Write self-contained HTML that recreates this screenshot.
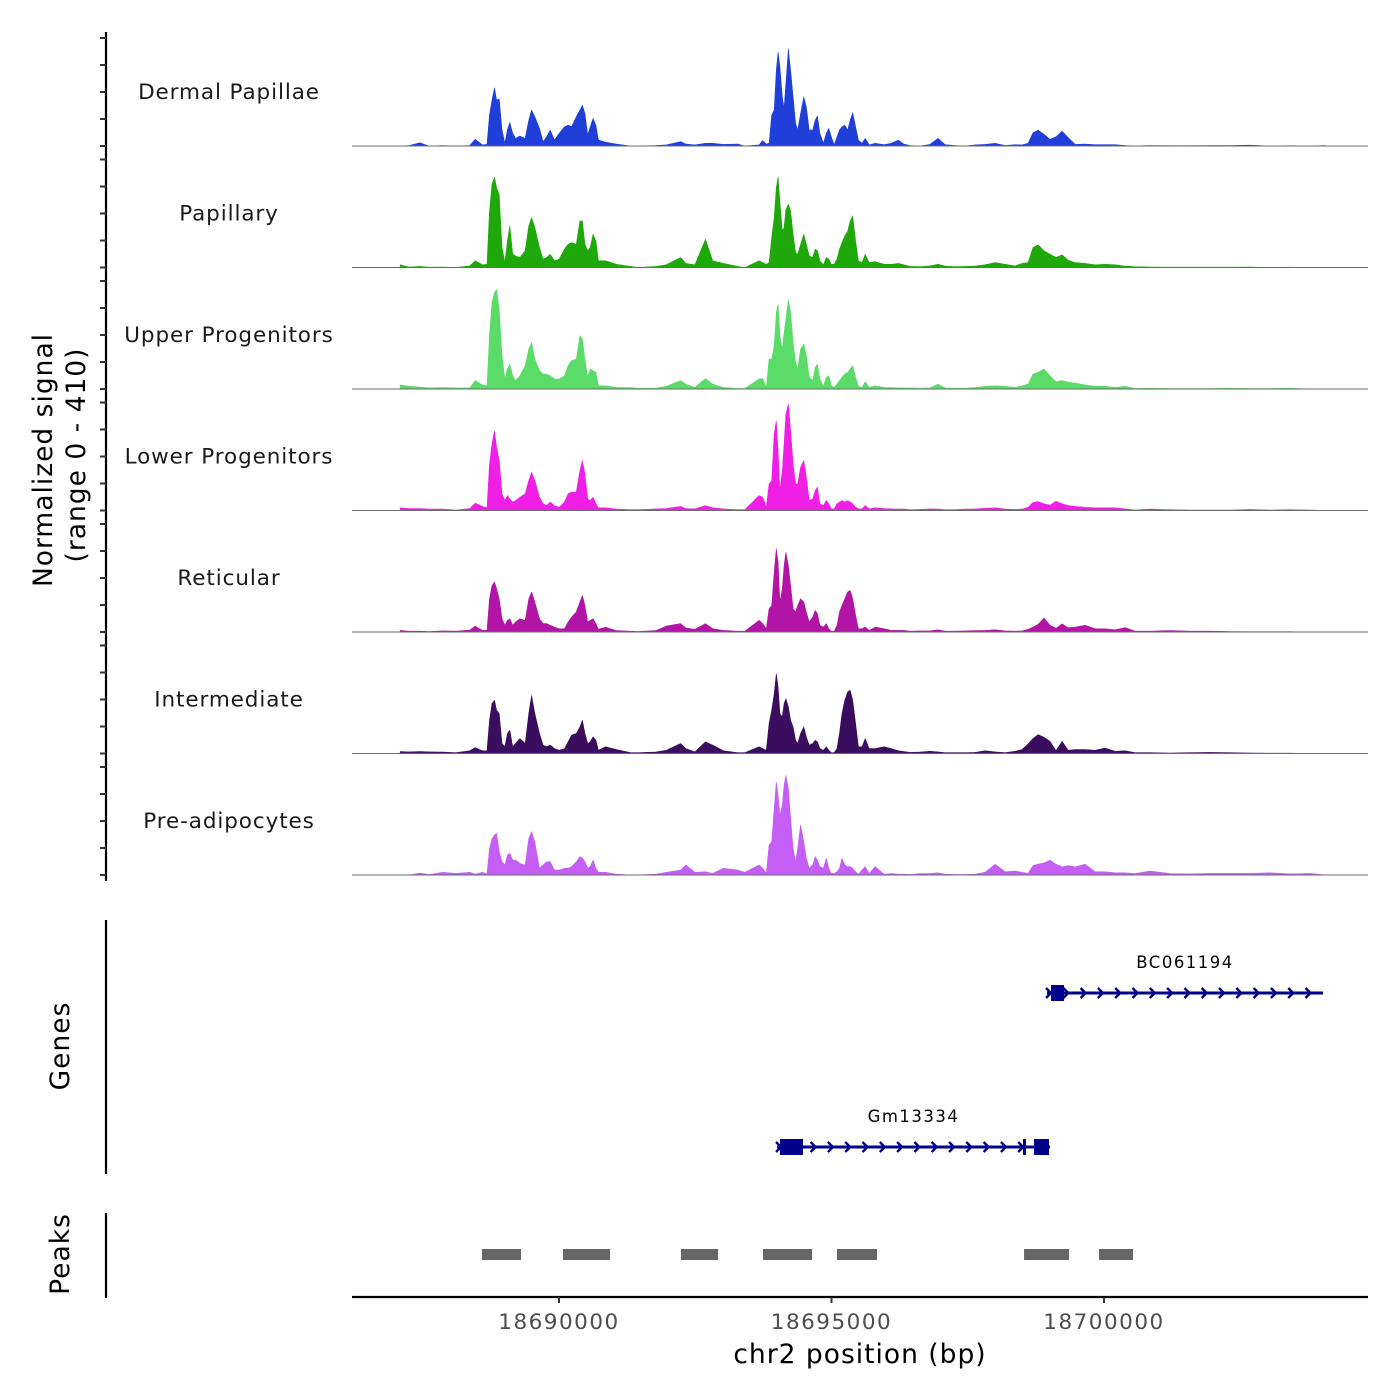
<!DOCTYPE html>
<html><head><meta charset="utf-8">
<style>
html,body{margin:0;padding:0;background:#fff;}
svg{display:block;font-family:"DejaVu Sans","Liberation Sans",sans-serif;}
</style></head>
<body>
<svg id="chart" width="1400" height="1400" viewBox="0 0 1400 1400" xmlns="http://www.w3.org/2000/svg"></svg>
<script>
// ---- data ----
const regionStart = 18686202;
const regionEnd = 18704844;
const xTicks = [18690000, 18695000, 18700000];
const yTicks = [0, 100, 200, 300, 400];
const trackNames = ["Dermal Papillae","Papillary","Upper Progenitors","Lower Progenitors","Reticular","Intermediate","Pre-adipocytes"];
const trackColors = ["#1f3fd8","#1ea80a","#5bdb68","#ef1fe6","#b215a5","#3b0d5e","#c45ef5"];
// genomic bin positions (bp)
const positions = [18687087,18687250,18687447,18687611,18687873,18688102,18688364,18688463,18688594,18688679,18688725,18688771,18688817,18688856,18688902,18688954,18689007,18689053,18689098,18689151,18689203,18689282,18689380,18689446,18689498,18689557,18689642,18689708,18689773,18689839,18689918,18690003,18690101,18690167,18690232,18690317,18690383,18690429,18690475,18690527,18690573,18690625,18690678,18690723,18690855,18691051,18691313,18691444,18691772,18691969,18692231,18692329,18692493,18692689,18692821,18693017,18693279,18693410,18693672,18693738,18693803,18693856,18693902,18693948,18693987,18694020,18694053,18694098,18694131,18694164,18694210,18694249,18694295,18694341,18694380,18694433,18694492,18694538,18694590,18694656,18694701,18694741,18694787,18694852,18694904,18694950,18694996,18695049,18695101,18695147,18695193,18695245,18695298,18695344,18695389,18695442,18695494,18695560,18695619,18695691,18695802,18695966,18696097,18696228,18696326,
18696441,18696625,18696808,18696955,18697084,18697267,18697451,18697634,18697818,18698001,18698185,18698368,18698497,18698607,18698698,18698790,18698900,18699010,18699120,18699231,18699341,18699469,18699653,18699836,18700020,18700203,18700387,18700570,18700845,18701212,18701579,18701946,18702313,18702680,18703047,18703414,18703781,18704057];
const dermalPapillae = [0,2,12,0,2,0,2,25,4,6,115,170,215,170,175,60,10,60,87,47,28,37,28,96,133,108,65,16,34,59,22,47,71,77,71,108,133,151,120,41,71,102,77,22,14,7,0,0,2,4,16,7,4,10,10,6,7,0,4,20,7,10,115,133,280,348,293,182,139,231,360,280,182,84,59,120,182,145,59,59,96,111,47,10,47,65,34,4,34,59,71,77,59,96,123,71,22,10,28,4,10,5,10,22,7,
2,0,6,28,5,2,0,4,6,10,2,5,4,10,49,59,43,25,34,55,31,6,7,5,5,5,2,0,2,1,1,2,2,3,0,1,0,2];
const papillary = [10,2,4,1,2,0,6,25,10,12,209,308,335,295,270,74,18,98,154,49,43,37,62,154,185,148,74,31,37,49,25,31,68,86,92,86,172,172,86,62,74,123,98,25,25,12,4,0,4,10,37,15,10,105,25,15,4,0,25,18,12,18,111,185,295,335,246,135,148,215,234,209,123,55,49,86,123,86,43,37,68,62,25,10,37,31,12,12,31,68,92,117,135,172,191,98,25,18,49,18,22,12,12,15,10,
4,3,6,12,5,3,4,5,10,18,12,6,15,18,74,84,62,49,37,47,27,18,15,10,12,10,5,3,2,1,1,1,1,2,0,1,0,0];
const upperProgenitors = [15,10,7,4,5,4,4,31,15,12,197,320,357,369,295,123,37,74,92,49,31,49,86,148,172,111,68,55,55,49,37,37,49,86,105,111,197,185,111,43,74,68,62,12,12,6,5,3,3,10,31,18,6,39,18,6,2,2,37,39,6,111,111,160,283,314,197,148,209,258,332,283,172,98,74,148,166,123,43,31,80,92,37,12,43,49,12,6,18,31,43,55,62,74,86,43,10,6,27,6,12,6,5,4,4,
4,3,4,18,4,3,3,5,10,12,10,6,12,18,55,62,74,49,27,31,25,22,15,10,10,6,10,2,3,2,2,2,3,2,2,3,0,0];
const lowerProgenitors = [10,7,7,5,5,2,7,27,15,10,172,246,295,234,185,62,37,55,43,31,37,49,62,111,141,111,49,25,18,31,18,12,31,62,68,68,148,185,135,43,37,49,25,10,10,5,3,3,6,7,15,7,6,18,10,6,3,3,55,49,12,98,111,283,332,221,74,148,246,357,394,295,172,98,98,160,185,123,37,43,74,86,25,18,37,25,6,6,25,31,37,31,37,31,25,12,6,6,18,6,10,7,6,5,5,
3,4,6,5,3,3,5,6,8,10,5,4,5,12,30,33,25,20,34,25,18,15,12,10,10,10,6,2,5,3,2,2,2,4,2,3,2,0];
const reticular = [6,3,3,2,4,3,7,22,6,6,123,172,185,160,123,49,25,43,49,25,37,49,43,123,148,111,49,31,31,25,18,12,12,37,55,74,111,135,98,37,43,49,31,10,18,5,3,2,5,22,31,15,10,31,12,6,3,3,43,31,12,86,98,221,308,258,111,160,246,295,246,172,86,74,98,123,111,74,37,55,80,68,25,18,31,12,3,3,25,74,98,123,148,154,123,62,12,12,18,6,18,12,6,6,6,
3,4,4,8,3,3,4,5,6,8,4,3,4,10,18,28,52,25,14,30,16,18,25,12,12,8,16,3,3,5,3,3,2,1,1,1,0,0];
const intermediate = [7,6,7,6,5,3,10,22,10,10,123,185,197,160,148,37,25,74,86,25,37,55,37,148,215,148,74,31,25,31,18,12,18,43,68,74,98,123,74,37,43,62,49,12,25,15,3,3,5,12,37,18,6,43,31,10,3,3,25,18,12,111,160,221,295,246,148,135,185,203,172,123,98,49,37,74,98,62,31,37,49,43,18,12,25,12,3,3,18,74,148,197,228,234,197,111,25,25,55,18,18,25,18,10,7,
4,5,8,6,3,3,3,4,10,6,3,8,15,35,55,70,60,45,10,45,12,15,15,12,20,8,10,3,3,2,3,4,3,2,1,1,0,0];
const preAdipocytes = [0,0,7,2,10,6,10,3,10,3,98,135,148,154,86,49,37,74,80,55,55,43,37,135,160,123,25,37,49,49,18,18,25,25,31,49,68,62,49,25,31,55,25,10,10,3,0,0,3,10,18,37,10,12,6,25,18,10,37,25,6,111,123,246,345,295,221,258,332,369,320,209,98,49,98,185,123,62,25,37,68,55,31,25,62,25,6,6,12,25,62,37,31,31,25,12,3,18,31,6,31,3,5,3,3,
2,5,5,8,3,2,2,3,10,40,12,15,10,6,35,40,45,55,40,30,35,30,40,12,12,8,8,5,15,5,4,6,6,6,8,4,6,0];
const trackValues = [dermalPapillae,papillary,upperProgenitors,lowerProgenitors,reticular,intermediate,preAdipocytes];
// genes
const geneNames = ["BC061194","Gm13334"];
const geneStarts = [18698955,18694000];
const geneEnds = [18704019,18699010];
const exonGene = [0,1,1,1];
const exonStarts = [18699028,18694055,18698514,18698716];
const exonEnds = [18699267,18694477,18698569,18698991];
// peaks
const peakStarts = [18688587,18690073,18692239,18693743,18695101,18698533,18699909];
const peakEnds = [18689303,18690936,18692918,18694643,18695835,18699359,18700533];

// ---- layout / scales ----
const NS = "http://www.w3.org/2000/svg";
const svg = document.getElementById("chart");
const plotLeft = 352, plotRight = 1368;
function xScale(bp){ return plotLeft + (bp - regionStart) / (regionEnd - regionStart) * (plotRight - plotLeft); }
const trackBase0 = 146, trackStep = 121.5;
function baseline(i){ return trackBase0 + i * trackStep; }
function yScale(v, i){ return baseline(i) - v * 0.27; }
const geneRowY = [993, 1147];
function mk(tag, attrs, parent){
  const el = document.createElementNS(NS, tag);
  for (const k in attrs) el.setAttribute(k, attrs[k]);
  (parent || svg).appendChild(el);
  return el;
}

// y axis for signal
const axG = mk("g", {});


mk("line", {x1:106, y1:32, x2:106, y2:881, stroke:"#000", "stroke-width":2.2}, axG);
for (let i = 0; i < trackNames.length; i++) {
  for (const t of yTicks) {
    const y = yScale(t, i);
    const tk = mk("line", {x1:100, y1:y, x2:106, y2:y, stroke:"#333", "stroke-width":2}, axG);
    
    
  }
}

// tracks
for (let i = 0; i < trackNames.length; i++) {
  const g = mk("g", {});
  
  
  const vals = trackValues[i];
  const b = baseline(i);
  let d = "M" + xScale(positions[0]).toFixed(1) + "," + b;
  for (let k = 0; k < positions.length; k++) {
    d += " L" + xScale(positions[k]).toFixed(1) + "," + yScale(vals[k], i).toFixed(1);
  }
  d += " L" + xScale(positions[positions.length-1]).toFixed(1) + "," + b + " Z";
  const area = mk("path", {d:d, fill:trackColors[i], stroke:trackColors[i], "stroke-width":0.6, "stroke-linejoin":"round"}, g);
  
  
  const bl = mk("line", {x1:plotLeft, y1:b, x2:plotRight, y2:b, stroke:"#6b6b6b", "stroke-width":1}, g);
  
  
  const lab = mk("text", {x:229, y:b - 47, "text-anchor":"middle", "font-size":21.5, fill:"#1a1a1a", "letter-spacing":"0.9"}, g);
  lab.textContent = trackNames[i];
  
  
}

// genes
const gG = mk("g", {});


mk("line", {x1:106, y1:920, x2:106, y2:1174, stroke:"#000", "stroke-width":2.2}, gG);
for (let j = 0; j < geneNames.length; j++) {
  const y = geneRowY[j];
  const x1 = xScale(geneStarts[j]), x2 = xScale(geneEnds[j]);
  const ln = mk("line", {x1:x1, y1:y, x2:x2, y2:y, stroke:"#00008b", "stroke-width":3}, gG);
  
  
  for (let cx = x1 + 2; cx <= x2; cx += 17.3) {
    mk("path", {d:"M"+(cx-3).toFixed(1)+","+(y-5)+" L"+(cx+2).toFixed(1)+","+y+" L"+(cx-3).toFixed(1)+","+(y+5), fill:"none", stroke:"#00008b", "stroke-width":2.4}, gG);
  }
  const t = mk("text", {x:(x1+x2)/2, y:y-25, "text-anchor":"middle", "font-size":16.5, fill:"#000", "letter-spacing":"1.5"}, gG);
  t.textContent = geneNames[j];
  
  
}
for (let e = 0; e < exonStarts.length; e++) {
  const y = geneRowY[exonGene[e]];
  const xa = xScale(exonStarts[e]), xb = xScale(exonEnds[e]);
  const r = mk("rect", {x:xa, y:y-8, width:Math.max(xb-xa, 2.5), height:16, fill:"#00008b"}, gG);
  
  
}

// peaks
const pG = mk("g", {});


mk("line", {x1:106, y1:1213, x2:106, y2:1298, stroke:"#000", "stroke-width":2.2}, pG);
for (let p = 0; p < peakStarts.length; p++) {
  const xa = xScale(peakStarts[p]), xb = xScale(peakEnds[p]);
  const r = mk("rect", {x:xa, y:1249, width:xb-xa, height:11, fill:"#666"}, pG);
  
  
}

// x axis
const xG = mk("g", {});


mk("line", {x1:plotLeft, y1:1297, x2:plotRight, y2:1297, stroke:"#000", "stroke-width":2.2}, xG);
for (const t of xTicks) {
  const x = xScale(t);
  mk("line", {x1:x, y1:1297, x2:x, y2:1303, stroke:"#333", "stroke-width":2}, xG);
  const tl = mk("text", {x:x, y:1329, "text-anchor":"middle", "font-size":21.5, fill:"#4d4d4d", "letter-spacing":"1.5"}, xG);
  tl.textContent = t;
  
  
}
const xt = mk("text", {x:860, y:1363, "text-anchor":"middle", "font-size":26.5, fill:"#000", "letter-spacing":"1"});
xt.textContent = "chr2 position (bp)";



// y titles
function rotText(txt, cx, cy, name){
  const t = mk("text", {x:0, y:0, transform:"translate("+cx+","+cy+") rotate(-90)", "text-anchor":"middle", "font-size":26.5, fill:"#000", "letter-spacing":"1"});
  t.textContent = txt;
  
  
}
rotText("Normalized signal", 52, 460, "y-axis-title");
rotText("(range 0 - 410)", 85, 455, "y-axis-subtitle");
rotText("Genes", 69, 1046, "genes-axis-title");
rotText("Peaks", 69, 1254, "peaks-axis-title");
</script>
</body></html>
